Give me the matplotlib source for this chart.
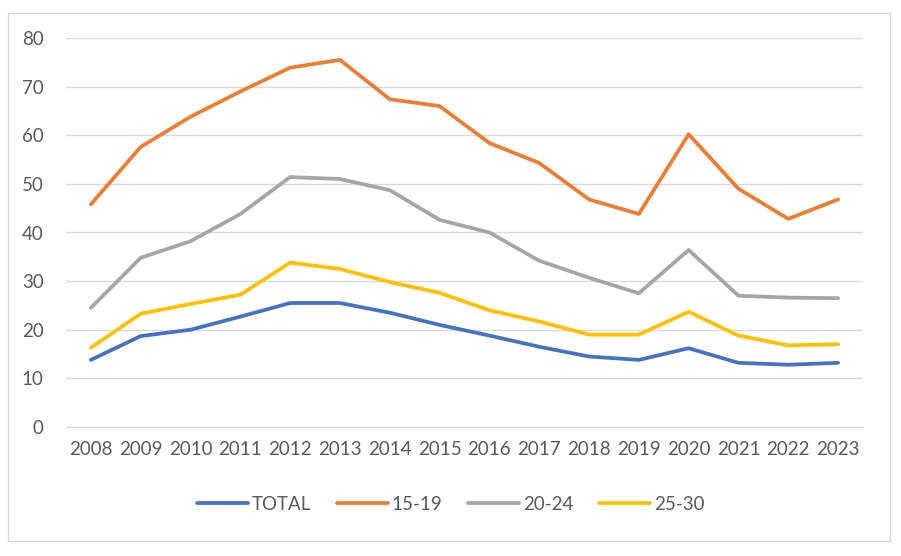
import matplotlib
matplotlib.use("Agg")
import matplotlib.pyplot as plt
from matplotlib.patches import Rectangle

years = [str(y) for y in range(2008, 2024)]
total = [13.8, 18.7, 20.0, 22.7, 25.5, 25.5, 23.5, 21.0, 18.8, 16.5, 14.5, 13.8, 16.2, 13.2, 12.8, 13.2]
age_15_19 = [45.8, 57.6, 63.8, 69.0, 73.9, 75.5, 67.4, 66.0, 58.4, 54.3, 46.8, 43.8, 60.2, 49.0, 42.8, 46.8]
age_20_24 = [24.5, 34.8, 38.2, 43.8, 51.4, 51.0, 48.7, 42.6, 40.0, 34.2, 30.7, 27.5, 36.4, 27.0, 26.6, 26.5]
age_25_30 = [16.3, 23.3, 25.3, 27.2, 33.8, 32.5, 29.8, 27.6, 24.0, 21.7, 19.0, 19.0, 23.7, 18.8, 16.8, 17.0]

plt.rcParams['font.family'] = ['Lato', 'DejaVu Sans']

fig = plt.figure(figsize=(9.01, 5.56), dpi=100)
fig.patches.append(Rectangle((8 / 901, 1 - 541 / 556), 882 / 901, 528 / 556,
                             transform=fig.transFigure, fill=False,
                             edgecolor='#D9D9D9', linewidth=1))
ax = fig.add_axes([66 / 901, 1 - 427 / 556, 797 / 901, 389 / 556])

x = range(len(years))
ax.plot(x, total, color='#4472C4', lw=2.7, label='TOTAL', solid_capstyle='round')
ax.plot(x, age_15_19, color='#ED7D31', lw=2.7, label='15-19', solid_capstyle='round')
ax.plot(x, age_20_24, color='#A5A5A5', lw=2.7, label='20-24', solid_capstyle='round')
ax.plot(x, age_25_30, color='#FFC000', lw=2.7, label='25-30', solid_capstyle='round')

ax.set_xlim(-0.5, len(years) - 0.5)
ax.set_ylim(0, 80)
ax.set_yticks(range(0, 81, 10))
ax.set_xticks(list(x))
ax.set_xticklabels(years)
ax.grid(axis='y', color='#D9D9D9', lw=1)
ax.set_axisbelow(True)
for s in ax.spines.values():
    s.set_visible(False)
ax.spines['bottom'].set_visible(True)
ax.spines['bottom'].set_color('#D9D9D9')
ax.tick_params(length=0, labelsize=13.5, colors='#595959')
ax.tick_params(axis='y', pad=16)
ax.tick_params(axis='x', pad=10)

ax.legend(loc='center', bbox_to_anchor=(0.5, 1 - 504 / 556), bbox_transform=fig.transFigure,
          ncol=4, frameon=False, fontsize=13.5, handlelength=2.7, columnspacing=1.4,
          handletextpad=0.2, labelcolor='#595959')

fig.savefig('out.png', dpi=100)
